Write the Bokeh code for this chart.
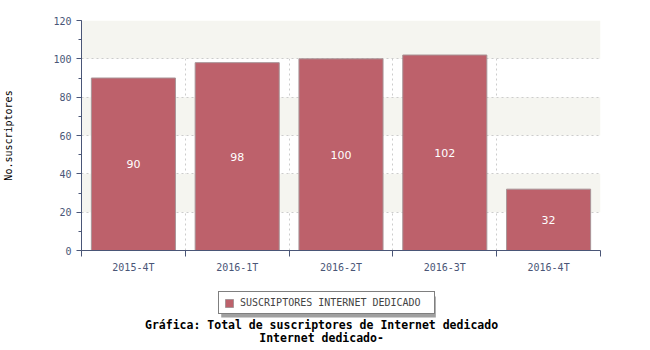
import numpy as np
from bokeh.plotting import figure
from bokeh.layouts import column
from bokeh.models import (ColumnDataSource, FixedTicker, SingleIntervalTicker, Legend,
                          LegendItem, Label, Range1d, BoxAnnotation)
from bokeh.core.properties import value
from bokeh.embed import file_html
from bokeh.resources import INLINE

categories = ["2015-4T", "2016-1T", "2016-2T", "2016-3T", "2016-4T"]
subscribers = [90, 98, 100, 102, 32]
series_name = "SUSCRIPTORES INTERNET DEDICADO"
y_label = "No.suscriptores"
title_lines = ["Gráfica: Total de suscriptores de Internet dedicado", "Internet dedicado-"]

xs = np.arange(len(categories)) + 0.5
src = ColumnDataSource(dict(
    x=xs, top=subscribers, mid=[v / 2 for v in subscribers],
    label=[str(v) for v in subscribers]))

AXIS = "#4a5677"
MONO = "DejaVu Sans Mono"
BAR = "#bd616b"

p = figure(width=650, height=280, output_backend="svg", toolbar_location=None,
           x_range=Range1d(0, len(categories)), y_range=Range1d(0, 120),
           min_border_left=80, min_border_right=50, min_border_top=20, min_border_bottom=30)
p.outline_line_color = None
p.background_fill_color = "white"

bars = p.vbar(x="x", top="top", width=0.81, bottom=0, source=src,
              fill_color=BAR, line_color="#a89497", line_width=1)
p.text(x="x", y="mid", text="label", source=src, text_color="white",
       text_align="center", text_baseline="middle", text_font_size="11px",
       text_font=value("DejaVu Sans"))

# y axis
p.yaxis.ticker = SingleIntervalTicker(interval=20, num_minor_ticks=2)
p.yaxis.axis_label = y_label
p.yaxis.axis_label_standoff = 36
p.yaxis.axis_label_text_font = MONO
p.yaxis.axis_label_text_font_style = "normal"
p.yaxis.axis_label_text_font_size = "10px"
p.yaxis.axis_label_text_color = "black"

# x axis: labels at centers, tick marks at boundaries
p.xaxis.ticker = FixedTicker(ticks=list(xs), minor_ticks=list(range(len(categories) + 1)))
p.xaxis.major_label_overrides = {float(x): c for x, c in zip(xs, categories)}
p.xaxis.major_tick_out = 0
p.xaxis.major_tick_in = 0
p.xaxis.minor_tick_out = 6
p.xaxis.minor_tick_in = 0

for ax in (p.xaxis, p.yaxis):
    ax.axis_line_color = AXIS
    ax.major_tick_line_color = AXIS
    ax.minor_tick_line_color = AXIS
    ax.major_label_text_color = AXIS
    ax.major_label_text_font = MONO
    ax.major_label_text_font_size = "10px"
p.yaxis.major_tick_out = 5
p.yaxis.major_tick_in = 0
p.yaxis.minor_tick_out = 3
p.yaxis.minor_tick_in = 0

p.xgrid.ticker = FixedTicker(ticks=list(range(1, len(categories) + 1)))
p.xgrid.grid_line_color = "#cccccc"
p.xgrid.grid_line_dash = "2 3"
p.ygrid.grid_line_color = "#cccccc"
p.ygrid.grid_line_dash = "2 3"
p.ygrid.band_fill_color = "#f5f5f0"
p.ygrid.band_fill_alpha = 1.0

# lower strip: legend and caption (data coordinates = page pixels)
p2 = figure(width=650, height=70, output_backend="svg", toolbar_location=None,
            x_range=Range1d(80, 600), y_range=Range1d(0, 70),
            x_axis_location=None, y_axis_location=None,
            min_border_left=80, min_border_right=50,
            min_border_top=0, min_border_bottom=0)
p2.outline_line_color = None
p2.grid.visible = False
key = p2.vbar(x="x", top="top", width=0.81, bottom=0, source=src,
              fill_color=BAR, line_color="#a89497", visible=False)

p2.add_layout(BoxAnnotation(left=220, right=435, bottom=33, top=54,
                            fill_color="#a0a0a0", fill_alpha=1.0, line_color=None))
legend = Legend(items=[LegendItem(label=series_name, renderers=[key])],
                location=(137, 36), orientation="horizontal",
                label_text_font=MONO, label_text_font_size="10px",
                border_line_color="black", border_line_width=1,
                background_fill_color="white", background_fill_alpha=1.0,
                inactive_fill_alpha=0.0,
                glyph_width=10, glyph_height=10, padding=5, margin=0,
                label_standoff=6, spacing=0, label_height=10, label_width=189)
p2.add_layout(legend, "center")

for i, t in enumerate(title_lines):
    p2.add_layout(Label(x=320.5, y=26 - 13 * i, text=t, text_align="center",
                        text_baseline="middle", text_font=MONO, text_font_size="11.5px",
                        text_font_style="bold", text_color="black"))

layout = column(p, p2, spacing=0)
open("out.html", "w").write(file_html(layout, INLINE))
